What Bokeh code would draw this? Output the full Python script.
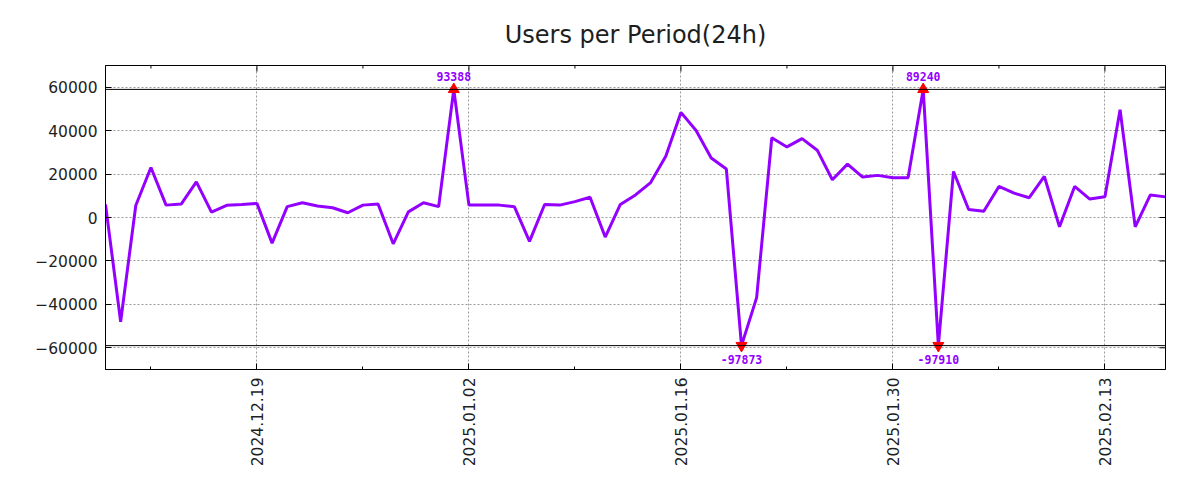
import pandas as pd
import numpy as np
from bokeh.plotting import figure
from bokeh.models import (Range1d, FixedTicker, DatetimeTickFormatter,
                          ColumnDataSource, Span)
from bokeh.embed import file_html
from bokeh.resources import INLINE
from bokeh.core.properties import value

# ---- data ----
start_date = "2024-12-09"
users = [6000, -48000, 5500, 23000, 5700, 6200, 16400, 2500, 5600, 6000, 6500,
         -11800, 5000, 6800, 5300, 4500, 2200, 5700, 6200, -12100, 2600, 6800,
         5000, 93388, 5700, 5700, 5700, 5000, -11000, 6000, 5700, 7300, 9300,
         -9000, 6000, 10400, 16100, 28200, 48400, 40100, 27400, 22300, -97873,
         -36900, 36700, 32500, 36300, 31000, 17400, 24600, 18600, 19400, 18300,
         18300, 89240, -97910, 21200, 3700, 2900, 14300, 11200, 9100, 18900,
         -4300, 14300, 8500, 9600, 49600, -4300, 10400, 9500]
major_tick_dates = ["2024-12-19", "2025-01-02", "2025-01-16", "2025-01-30", "2025-02-13"]
minor_tick_dates = ["2024-12-12", "2024-12-26", "2025-01-09", "2025-01-23", "2025-02-06"]
y_ticks = [-60000, -40000, -20000, 0, 20000, 40000, 60000]
y_min, y_max = -70000, 70000
clip_limit = 59000

dates = pd.date_range(start_date, periods=len(users), freq="D")
vals = np.array(users, dtype=float)
clipped = np.clip(vals, -clip_limit, clip_limit)

PURPLE = "#9400FF"
TEXT = "#1e1e1e"

p = figure(width=1200, height=500, x_axis_type="datetime",
           x_range=Range1d(dates[0], dates[-1]), y_range=Range1d(y_min, y_max),
           output_backend="svg", toolbar_location=None,
           min_border_left=105, min_border_right=35, min_border_top=65,
           min_border_bottom=131)
p.background_fill_color = "white"
p.border_fill_color = "white"
p.outline_line_color = "black"
p.outline_line_width = 1

p.title.text = "Users per Period(24h)"
p.title.align = "center"
p.title.text_font = "DejaVu Sans"
p.title.text_font_size = "24px"
p.title.text_font_style = "normal"
p.title.text_color = TEXT
p.title.standoff = 34

to_dt = lambda ds: [pd.Timestamp(d) for d in ds]
to_ms = lambda ds: [pd.Timestamp(d).value / 1e6 for d in ds]
xticker = FixedTicker(ticks=to_ms(major_tick_dates), minor_ticks=to_ms(minor_tick_dates))
yticker = FixedTicker(ticks=y_ticks)
fmt = "%Y.%m.%d"
dfmt = DatetimeTickFormatter(microseconds=fmt, milliseconds=fmt, seconds=fmt, minsec=fmt,
                             minutes=fmt, hourmin=fmt, hours=fmt, days=fmt, months=fmt,
                             years=fmt)

def style_axis(ax):
    ax.axis_line_color = "black"
    ax.axis_line_width = 1
    ax.major_tick_in = 6
    ax.major_tick_out = 0
    ax.minor_tick_in = 3
    ax.minor_tick_out = 0
    ax.major_tick_line_color = "black"
    ax.minor_tick_line_color = "black"
    ax.major_label_text_font = "DejaVu Sans"
    ax.major_label_text_font_size = "15.5px"
    ax.major_label_text_color = TEXT
    ax.major_label_standoff = 8

xa = p.xaxis[0]
xa.ticker = xticker
xa.formatter = dfmt
xa.major_label_orientation = np.pi / 2
style_axis(xa)

ya = p.yaxis[0]
ya.ticker = yticker
style_axis(ya)
ya.minor_tick_in = 0

for g in (p.xgrid[0], p.ygrid[0]):
    g.grid_line_color = "#9a9a9a"
    g.grid_line_dash = "2 2"
    g.grid_line_width = 1
p.xgrid[0].ticker = xticker
p.ygrid[0].ticker = yticker

# mirrored inward ticks on top and right borders (half of each dash is clipped by the frame)
maj_x = to_dt(major_tick_dates)
min_x = to_dt(minor_tick_dates)
p.scatter(maj_x, [y_max] * len(maj_x), marker="dash", angle=np.pi / 2, size=12,
          line_color="black", line_width=1)
p.scatter(min_x, [y_max] * len(min_x), marker="dash", angle=np.pi / 2, size=6,
          line_color="black", line_width=1)
p.scatter([dates[-1]] * len(y_ticks), y_ticks, marker="dash", size=12,
          line_color="black", line_width=1)

# clip boundary lines
for yv in (clip_limit, -clip_limit):
    p.add_layout(Span(location=yv, dimension="width", line_color="black", line_width=1))

p.line(dates, clipped, line_color=PURPLE, line_width=3)

hi = vals > clip_limit
lo = vals < -clip_limit
src_hi = ColumnDataSource(dict(x=dates[hi], y=clipped[hi], t=[str(int(v)) for v in vals[hi]]))
src_lo = ColumnDataSource(dict(x=dates[lo], y=clipped[lo], t=[str(int(v)) for v in vals[lo]]))
p.scatter("x", "y", source=src_hi, marker="triangle", size=11, color="red")
p.scatter("x", "y", source=src_lo, marker="inverted_triangle", size=11, color="red")
p.text("x", "y", text="t", source=src_hi, text_align="center", text_baseline="bottom",
       y_offset=-8, text_font=value("DejaVu Sans Mono"), text_font_style="bold",
       text_font_size="11.5px", text_color=PURPLE)
p.text("x", "y", text="t", source=src_lo, text_align="center", text_baseline="top",
       y_offset=9, text_font=value("DejaVu Sans Mono"), text_font_style="bold",
       text_font_size="11.5px", text_color=PURPLE)

open("out.html", "w").write(file_html(p, INLINE))
